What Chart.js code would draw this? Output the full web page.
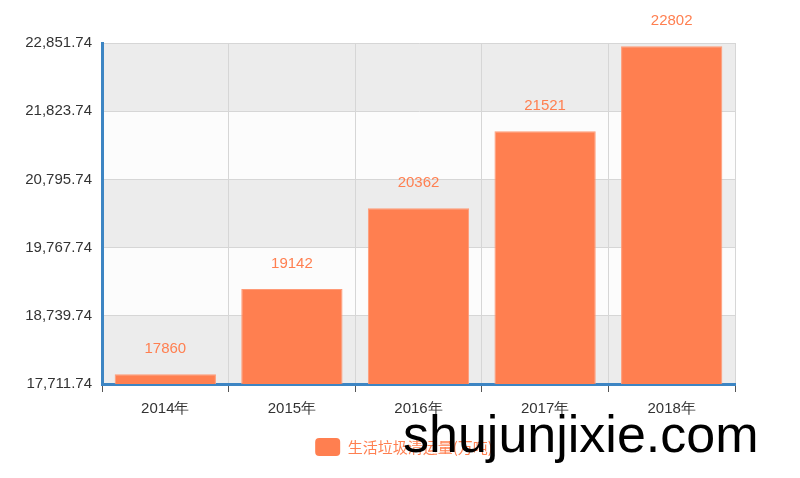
<!DOCTYPE html>
<html><head><meta charset="utf-8">
<script src="https://cdn.jsdelivr.net/npm/chart.js@4/dist/chart.umd.min.js"></script>
<style>
html,body{margin:0;padding:0;background:#fff;}
#wrap{position:relative;width:800px;height:478px;}
#wm{position:absolute;left:403px;top:404px;font-family:"Liberation Sans",Arial,sans-serif;font-size:52px;color:#000;line-height:60px;white-space:nowrap;}
</style></head>
<body>
<div id="wrap"><canvas id="c" width="800" height="478"></canvas><div id="wm">shujunjixie.com</div></div>
<script>
const categories = ['2014年','2015年','2016年','2017年','2018年'];
const seriesName = '生活垃圾清运量(万吨)';
const values = [17860, 19142, 20362, 21521, 22802];
const yTicks = [17711.74, 18739.74, 19767.74, 20795.74, 21823.74, 22851.74];
const yTickLabels = ['17,711.74','18,739.74','19,767.74','20,795.74','21,823.74','22,851.74'];

const CORAL = '#ff7f50';
const BLUE = '#3d85c3';

const bandPlugin = {
  id: 'bands',
  beforeDraw(chart) {
    const {ctx, chartArea, scales} = chart;
    const y = scales.y;
    ctx.save();
    for (let i = 0; i < yTicks.length - 1; i++) {
      const y0 = y.getPixelForValue(yTicks[i]);
      const y1 = y.getPixelForValue(yTicks[i + 1]);
      ctx.fillStyle = (i % 2 === 0) ? '#ececec' : '#fcfcfc';
      ctx.fillRect(chartArea.left, y1, chartArea.right - chartArea.left, y0 - y1);
    }
    ctx.restore();
  }
};

const labelPlugin = {
  id: 'valueLabels',
  afterDatasetsDraw(chart) {
    const {ctx} = chart;
    const meta = chart.getDatasetMeta(0);
    ctx.save();
    ctx.fillStyle = CORAL;
    ctx.font = '15px "Liberation Sans", Arial, sans-serif';
    ctx.textAlign = 'center';
    ctx.textBaseline = 'middle';
    meta.data.forEach((bar, i) => {
      ctx.fillText(String(values[i]), bar.x, bar.y - 25.5);
    });
    ctx.restore();
  }
};

new Chart(document.getElementById('c'), {
  type: 'bar',
  data: {
    labels: categories,
    datasets: [{
      label: seriesName,
      data: values,
      backgroundColor: CORAL,
      borderColor: '#ff9a76',
      borderWidth: 1,
      barPercentage: 0.8,
      categoryPercentage: 1.0
    }]
  },
  options: {
    responsive: false,
    animation: false,
    devicePixelRatio: 1,
    layout: { padding: { left: 8, right: 0, top: 43, bottom: 12 } },
    plugins: {
      tooltip: { enabled: false },
      legend: {
        position: 'bottom',
        labels: {
          boxWidth: 25,
          boxHeight: 18,
          useBorderRadius: true,
          borderRadius: 4,
          color: CORAL,
          padding: 10,
          font: { size: 15, family: '"Noto Sans CJK SC", "Liberation Sans", sans-serif' },
          generateLabels(chart) {
            return [{ text: seriesName, fillStyle: CORAL, strokeStyle: CORAL, lineWidth: 0, fontColor: CORAL, datasetIndex: 0, borderRadius: 4 }];
          }
        }
      }
    },
    scales: {
      x: {
        grid: { color: '#d6d6d6', tickColor: '#555', tickLength: 8, offset: true, drawOnChartArea: true },
        border: { color: BLUE, width: 3 },
        ticks: { color: '#333', padding: 8, font: { size: 15, family: '"Liberation Sans", Arial, sans-serif' } },
        afterFit(scale) { scale.height = 44; }
      },
      y: {
        min: yTicks[0],
        max: yTicks[yTicks.length - 1],
        afterBuildTicks(scale) { scale.ticks = yTicks.map(v => ({ value: v })); },
        grid: { color: '#d6d6d6', drawTicks: false },
        border: { color: BLUE, width: 3 },
        ticks: {
          color: '#333',
          padding: 10,
          font: { size: 15, family: '"Liberation Sans", Arial, sans-serif' },
          callback(value, index) { return yTickLabels[index]; }
        },
        afterFit(scale) { scale.width = 94; }
      },
      y2: {
        position: 'right',
        min: 0,
        max: 1,
        grid: { display: false, drawTicks: false },
        border: { display: false },
        ticks: { display: false },
        afterFit(scale) { scale.width = 65; }
      }
    }
  },
  plugins: [bandPlugin, labelPlugin]
});
</script>
</body></html>
